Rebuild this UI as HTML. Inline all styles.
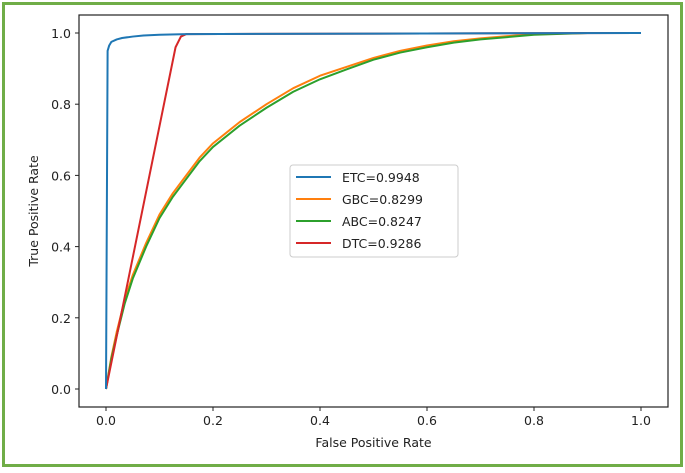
<!DOCTYPE html>
<html><head><meta charset="utf-8"><style>
body{margin:0;background:#fff;width:685px;height:469px;overflow:hidden;font-family:"DejaVu Sans","Liberation Sans",sans-serif}
</style></head><body>
<svg width="685" height="469" xmlns="http://www.w3.org/2000/svg" font-family="DejaVu Sans, Liberation Sans, sans-serif">
<rect x="3.5" y="3.5" width="678" height="462" fill="none" stroke="#70ad47" stroke-width="3"/>
<g id="plot"></g>
</svg>
<script>
const xTicks=[0,0.2,0.4,0.6,0.8,1.0];
const yTicks=[0,0.2,0.4,0.6,0.8,1.0];
const seriesNames=["ETC=0.9948","GBC=0.8299","ABC=0.8247","DTC=0.9286"];
const seriesColors=["#1f77b4","#ff7f0e","#2ca02c","#d62728"];
const etcFpr=[0,0.003,0.006,0.01,0.02,0.03,0.05,0.07,0.1,0.15,1];
const etcTpr=[0,0.95,0.965,0.975,0.982,0.986,0.99,0.993,0.995,0.997,1];
const gbcFpr=[0,0.01,0.02,0.035,0.05,0.075,0.1,0.125,0.15,0.175,0.2,0.25,0.3,0.35,0.4,0.45,0.5,0.55,0.6,0.65,0.7,0.8,0.9,1];
const gbcTpr=[0,0.09,0.16,0.25,0.32,0.41,0.49,0.55,0.6,0.65,0.69,0.75,0.8,0.845,0.88,0.905,0.93,0.95,0.965,0.977,0.985,0.997,1,1];
const abcFpr=[0,0.01,0.02,0.035,0.05,0.075,0.1,0.125,0.15,0.175,0.2,0.25,0.3,0.35,0.4,0.45,0.5,0.55,0.6,0.65,0.7,0.8,0.9,1];
const abcTpr=[0,0.085,0.15,0.24,0.31,0.4,0.48,0.54,0.59,0.64,0.68,0.74,0.79,0.835,0.87,0.898,0.925,0.945,0.96,0.973,0.982,0.995,1,1];
const dtcFpr=[0,0.13,0.14,0.15,1];
const dtcTpr=[0,0.96,0.99,0.997,1];
const NS="http://www.w3.org/2000/svg";
const L=79,T=15,R=668,B=407;
const sx=v=>106+v*(641-106);
const sy=v=>389-v*(389-33);
const g=document.getElementById('plot');
function mk(t,a,p){const e=document.createElementNS(NS,t);for(const k in a)e.setAttribute(k,a[k]);(p||g).appendChild(e);return e;}
const ax=mk('rect',{x:L,y:T,width:R-L,height:B-T,fill:'none',stroke:'#222','stroke-width':1.2});


xTicks.forEach(v=>{const x=sx(v);mk('line',{x1:x,x2:x,y1:B,y2:B+4,stroke:'#222'});
const t=mk('text',{x:x,y:B+18,'text-anchor':'middle','font-size':12.5,fill:'#222'});t.textContent=v.toFixed(1);

});
yTicks.forEach(v=>{const y=sy(v);mk('line',{x1:L-4,x2:L,y1:y,y2:y,stroke:'#222'});
const t=mk('text',{x:L-8,y:y+5,'text-anchor':'end','font-size':12.5,fill:'#222'});t.textContent=v.toFixed(1);

});
const xt=mk('text',{x:(L+R)/2,y:447,'text-anchor':'middle','font-size':12.5,fill:'#222'});xt.textContent='False Positive Rate';


const yt=mk('text',{x:0,y:0,'text-anchor':'middle','font-size':12.5,fill:'#222',transform:`translate(38,${(T+B)/2}) rotate(-90)`});yt.textContent='True Positive Rate';


const data=[[etcFpr,etcTpr],[gbcFpr,gbcTpr],[abcFpr,abcTpr],[dtcFpr,dtcTpr]];
const order=[1,2,3,0];
order.forEach(i=>{const [xs,ys]=data[i];
const p=mk('polyline',{points:xs.map((x,j)=>sx(x)+','+sy(ys[j])).join(' '),fill:'none',stroke:seriesColors[i],'stroke-width':2,'stroke-linejoin':'round'});

});
const lg=mk('g',{});


mk('rect',{x:290,y:165,width:168,height:92,rx:3,fill:'#fff','fill-opacity':0.85,stroke:'#ccc'},lg);
seriesNames.forEach((n,i)=>{const y=177+i*22;
mk('line',{x1:296,x2:331,y1:y,y2:y,stroke:seriesColors[i],'stroke-width':2},lg);
const t=mk('text',{x:342,y:y+5,'font-size':12.5,fill:'#222'},lg);t.textContent=n;

});
</script>
</body></html>
